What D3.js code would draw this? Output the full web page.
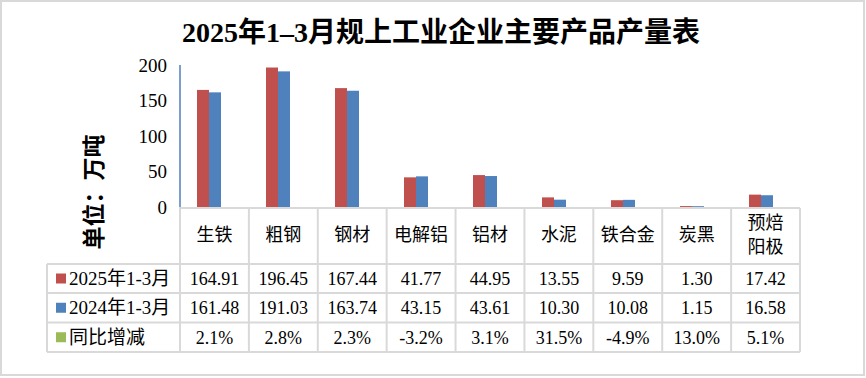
<!DOCTYPE html>
<html>
<head>
<meta charset="utf-8">
<script src="https://cdn.jsdelivr.net/npm/d3@7"></script>
<style>
  body { margin: 0; background: #fff; }
  svg { display: block; }
</style>
</head>
<body>
<div id="chart"></div>
<script>
const categories = ["生铁", "粗钢", "钢材", "电解铝", "铝材", "水泥", "铁合金", "炭黑", "预焙阳极"];
const categoryLines = [["生铁"], ["粗钢"], ["钢材"], ["电解铝"], ["铝材"], ["水泥"], ["铁合金"], ["炭黑"], ["预焙", "阳极"]];
const values2025 = [164.91, 196.45, 167.44, 41.77, 44.95, 13.55, 9.59, 1.30, 17.42];
const values2024 = [161.48, 191.03, 163.74, 43.15, 43.61, 10.30, 10.08, 1.15, 16.58];
const yoyChange = ["2.1%", "2.8%", "2.3%", "-3.2%", "3.1%", "31.5%", "-4.9%", "13.0%", "5.1%"];
const seriesNames = ["2025年1-3月", "2024年1-3月", "同比增减"];
const seriesColors = ["#c0504d", "#4f81bd", "#9bbb59"];
const yTicks = [0, 50, 100, 150, 200];
const title = "2025年1–3月规上工业企业主要产品产量表";
const yTitle = "单位：万吨";

const width = 866, height = 378;
const serif = "'Liberation Serif', 'Times New Roman', 'Noto Sans CJK SC', serif";
const grid = "#d9d9d9";

const svg = d3.select("#chart").append("svg")
      .attr("width", width)
      .attr("height", height);

// outer frame
svg.append("rect")
      .attr("x", 1).attr("y", 1)
      .attr("width", width - 3).attr("height", height - 4)
      .attr("fill", "#fff")
      .attr("stroke", grid)
      .attr("stroke-width", 2);

svg.append("text")
      .attr("x", 441).attr("y", 42)
      .attr("text-anchor", "middle")
      .attr("font-family", serif)
      .attr("font-weight", "bold")
      .attr("font-size", 28)
      .text(title);

const y = d3.scaleLinear().domain([0, 200]).range([207, 65]);
const x = d3.scaleBand().domain(categories).range([174.5, 795.5]);
const xt = d3.scaleBand().domain(categories).range([180, 800]);
const barW = 12;

// bars
const groups = svg.append("g").selectAll("g")
      .data(categories)
      .join("g");

groups.append("rect")
      .attr("x", d => x(d) + x.bandwidth() / 2 - barW)
      .attr("y", (d, i) => y(values2025[i]))
      .attr("width", barW)
      .attr("height", (d, i) => y(0) - y(values2025[i]))
      .attr("fill", seriesColors[0]);

groups.append("rect")
      .attr("x", d => x(d) + x.bandwidth() / 2)
      .attr("y", (d, i) => y(values2024[i]))
      .attr("width", barW)
      .attr("height", (d, i) => y(0) - y(values2024[i]))
      .attr("fill", seriesColors[1]);

// y axis
const yAxis = svg.append("g")
      .attr("transform", "translate(180,0)")
      .call(d3.axisLeft(y).tickValues(yTicks).tickSize(0).tickPadding(13));
yAxis.select(".domain").remove();
yAxis.selectAll("text")
      .attr("font-family", serif)
      .attr("font-size", 19)
      .attr("fill", "#000");

svg.append("line")
      .attr("x1", 180).attr("x2", 180)
      .attr("y1", y(200)).attr("y2", y(0))
      .attr("stroke", seriesColors[1])
      .attr("stroke-width", 1.5);

svg.append("text")
      .attr("transform", "translate(102,192) rotate(-90)")
      .attr("text-anchor", "middle")
      .attr("font-family", serif)
      .attr("font-weight", "bold")
      .attr("font-size", 23)
      .text(yTitle);

// data table
const rowLines = [264, 293, 322.5, 352];
const table = svg.append("g")
      .attr("stroke", grid)
      .attr("stroke-width", 2);

table.append("line")
      .attr("x1", 179).attr("x2", 800)
      .attr("y1", y(0) + 1).attr("y2", y(0) + 1);

rowLines.forEach(ry => {
      table.append("line")
            .attr("x1", 47).attr("x2", 800)
            .attr("y1", ry).attr("y2", ry);
});

table.append("line")
      .attr("x1", 47).attr("x2", 47)
      .attr("y1", rowLines[0]).attr("y2", rowLines[3]);

categories.concat([null]).forEach((c, i) => {
      const cx = c ? xt(c) : xt.range()[1];
      table.append("line")
            .attr("x1", cx).attr("x2", cx)
            .attr("y1", y(0) + 1).attr("y2", rowLines[3]);
});

// category labels
const catText = svg.append("g").selectAll("text")
      .data(categories)
      .join("text")
      .attr("text-anchor", "middle")
      .attr("font-family", "'Noto Sans CJK SC', sans-serif")
      .attr("font-size", 18)
      .attr("fill", "#000");

catText.each(function (d, i) {
      const lines = categoryLines[i];
      const cx = xt(d) + xt.bandwidth() / 2;
      const base = 241 - (lines.length - 1) * 12;
      lines.forEach((t, j) => {
            d3.select(this).append("tspan")
                  .attr("x", cx)
                  .attr("y", base + j * 24)
                  .text(t);
      });
});

// table rows
const rowData = [
      values2025.map(v => v.toFixed(2)),
      values2024.map(v => v.toFixed(2)),
      yoyChange
];

rowData.forEach((row, r) => {
      const cy = (rowLines[r] + rowLines[r + 1]) / 2;
      svg.append("rect")
            .attr("x", 56).attr("y", cy - 5)
            .attr("width", 10).attr("height", 10)
            .attr("fill", seriesColors[r]);
      svg.append("text")
            .attr("x", 69).attr("y", cy + 6.5)
            .attr("font-family", serif)
            .attr("font-size", 19)
            .text(seriesNames[r]);
      svg.append("g").selectAll("text")
            .data(categories)
            .join("text")
            .attr("x", d => xt(d) + xt.bandwidth() / 2)
            .attr("y", cy + 6.5)
            .attr("text-anchor", "middle")
            .attr("font-family", serif)
            .attr("font-size", 18)
            .text((d, i) => row[i]);
});
</script>
</body>
</html>
